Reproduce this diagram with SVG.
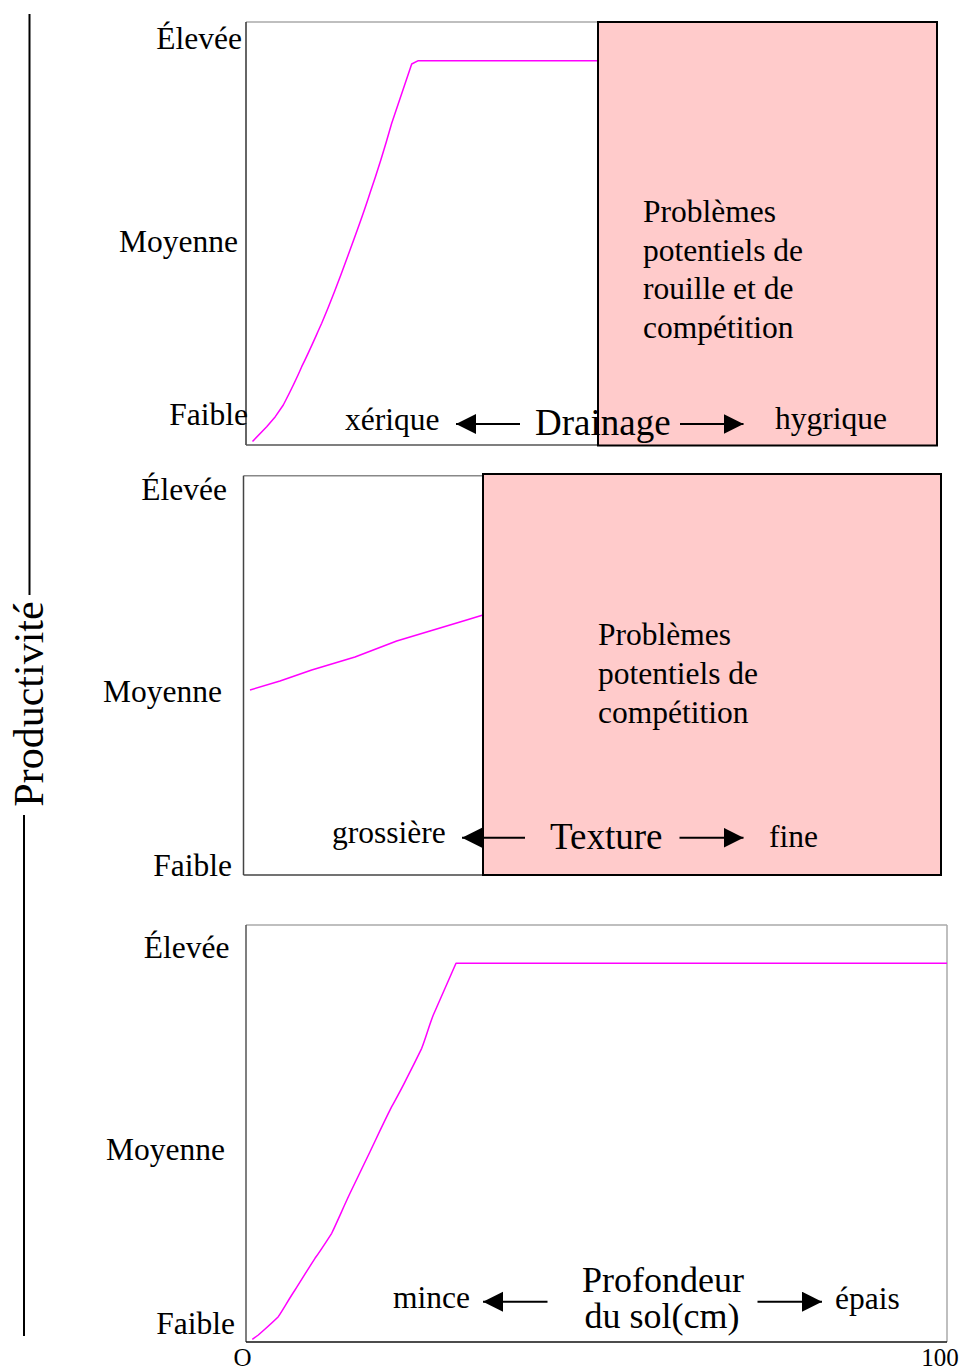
<svg xmlns="http://www.w3.org/2000/svg" width="960" height="1369" viewBox="0 0 960 1369">
<style>
text{font-family:"Liberation Serif","Times New Roman",serif;fill:#000}
.lbl{font-size:31.5px}
.ttl{font-size:37px}
.tick{font-size:25px}
.curve{fill:none;stroke:#ff00ff;stroke-width:1.5;stroke-linejoin:round}
.box{fill:#ffcbcb;stroke:#000;stroke-width:2}
.arr{stroke:#000;stroke-width:2;fill:none;marker-end:url(#ah)}
.fr{stroke-width:1.5;fill:none}
</style>
<defs>
<marker id="ah" markerUnits="userSpaceOnUse" markerWidth="21" markerHeight="21" refX="20" refY="10" orient="auto" viewBox="0 0 21 21">
<path d="M0,0 L20,10 L0,20 z" fill="#000"/>
</marker>
</defs>
<rect width="960" height="1369" fill="#fff"/>

<g id="axis-productivite">
<line x1="29.5" y1="14" x2="29.5" y2="595" stroke="#000" stroke-width="2"/>
<line x1="24" y1="815" x2="24" y2="1336" stroke="#000" stroke-width="2"/>
<text transform="translate(43,704) rotate(-90)" text-anchor="middle" style="font-size:42px">Productivité</text>
</g>

<g id="panel-drainage">
<line class="fr" x1="246" y1="22" x2="598" y2="22" stroke="#aaa"/>
<line class="fr" x1="246" y1="22" x2="246" y2="445" stroke="#333"/>
<line class="fr" x1="246" y1="445" x2="598" y2="445" stroke="#555"/>
<path class="curve" d="M252.5,441.5 L266.7,426.7 L275.3,416.7 L283.3,405 C290,392 296,380 301.7,366.7 C309,352 315,338 321.7,323.3 C332,299 341,275 350,250 C357,231 364,212 370,193 C378,170 385,147 391.7,123.3 L411.7,64 L418.3,60.7 L598,60.7"/>
<rect class="box" x="598" y="22" width="339" height="423.5"/>
<text class="lbl" x="242" y="49" text-anchor="end">Élevée</text>
<text class="lbl" x="238" y="252" text-anchor="end">Moyenne</text>
<text class="lbl" x="248" y="425" text-anchor="end">Faible</text>
<text class="lbl" x="643" y="222">Problèmes</text>
<text class="lbl" x="643" y="260.5">potentiels de</text>
<text class="lbl" x="643" y="299">rouille et de</text>
<text class="lbl" x="643" y="337.5">compétition</text>
<text class="lbl" x="345" y="430">xérique</text>
<text class="ttl" x="535" y="435">Drainage</text>
<text class="lbl" x="775" y="428.5">hygrique</text>
</g>

<g id="panel-texture">
<line class="fr" x1="243.5" y1="475.7" x2="483" y2="475.7" stroke="#888"/>
<line class="fr" x1="243.5" y1="475.7" x2="243.5" y2="875" stroke="#444"/>
<line class="fr" x1="243.5" y1="875" x2="483" y2="875" stroke="#444"/>
<polyline class="curve" points="250,690 280,681 311.7,670 355,657 396.7,641 430,631 463.3,621 483,615"/>
<rect class="box" x="483" y="474" width="458" height="401"/>
<text class="lbl" x="227" y="499.5" text-anchor="end">Élevée</text>
<text class="lbl" x="222" y="702" text-anchor="end">Moyenne</text>
<text class="lbl" x="232" y="875.5" text-anchor="end">Faible</text>
<text class="lbl" x="598" y="645">Problèmes</text>
<text class="lbl" x="598" y="684">potentiels de</text>
<text class="lbl" x="598" y="722.5">compétition</text>
<text class="lbl" x="332" y="843">grossière</text>
<text class="ttl" x="550" y="848.5">Texture</text>
<text class="lbl" x="769" y="846.5">fine</text>
</g>

<g id="panel-profondeur">
<line class="fr" x1="246" y1="925" x2="947" y2="925" stroke="#aaa"/>
<line class="fr" x1="947" y1="925" x2="947" y2="1342" stroke="#aaa"/>
<line class="fr" x1="246" y1="925" x2="246" y2="1342" stroke="#555"/>
<line class="fr" x1="246" y1="1342" x2="947" y2="1342" stroke="#111"/>
<path class="curve" d="M252.3,1339.3 L258.3,1335 C265,1329 272,1323 278.3,1316.7 C284,1308 289,1299 295,1290 C302,1279 308,1269 315,1258.3 C321,1250 326,1242 331.7,1233.3 C338,1220 344,1206 350,1193.3 C357,1179 363,1166 370,1151.7 C377,1137 384,1122 391.7,1106.7 C397,1097 402,1088 406.7,1078.3 C412,1068 417,1058 421.7,1048.3 C426,1037 429,1026 433.3,1015 L456,963.3 L947,963.3"/>
<text class="lbl" x="229.5" y="957.5" text-anchor="end">Élevée</text>
<text class="lbl" x="225" y="1160" text-anchor="end">Moyenne</text>
<text class="lbl" x="235" y="1333.5" text-anchor="end">Faible</text>
<text class="tick" x="242.5" y="1365.5" text-anchor="middle">O</text>
<text class="tick" x="940" y="1365.5" text-anchor="middle">100</text>
<text class="lbl" x="393" y="1307.5">mince</text>
<text class="ttl" x="663" y="1292" text-anchor="middle" style="font-size:36px">Profondeur</text>
<text class="ttl" x="662" y="1327.5" text-anchor="middle" style="font-size:36px">du sol(cm)</text>
<text class="lbl" x="835" y="1308.5">épais</text>
</g>

<g id="connectors">
<line class="arr" x1="520" y1="424" x2="456" y2="424"/>
<line class="arr" x1="680" y1="424" x2="743.5" y2="424"/>
<line class="arr" x1="525" y1="837.7" x2="462" y2="837.7"/>
<line class="arr" x1="679.5" y1="837.7" x2="743.5" y2="837.7"/>
<line class="arr" x1="547.5" y1="1301.7" x2="483" y2="1301.7"/>
<line class="arr" x1="757.5" y1="1301.7" x2="822" y2="1301.7"/>
</g>
</svg>
